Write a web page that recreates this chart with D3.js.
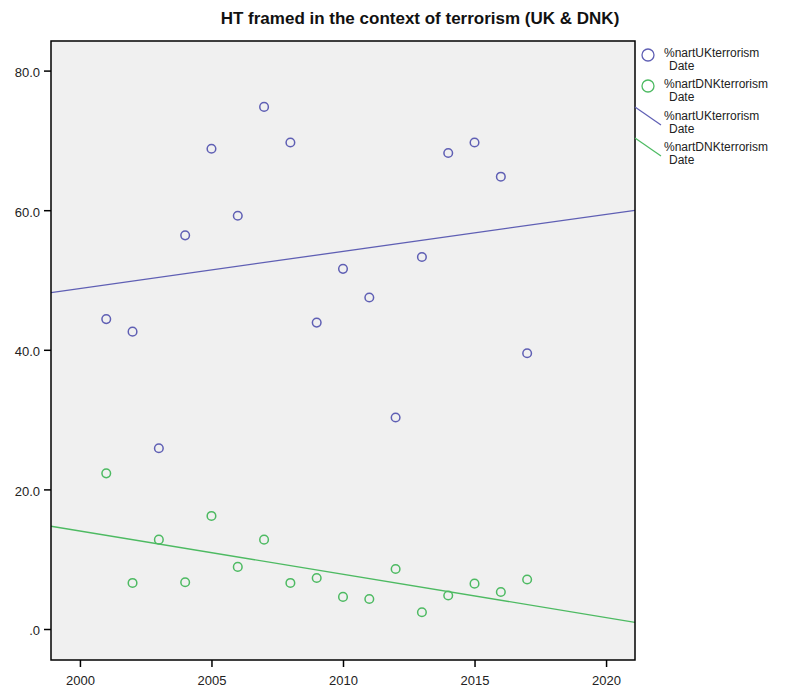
<!DOCTYPE html>
<html>
<head>
<meta charset="utf-8">
<script src="https://cdn.jsdelivr.net/npm/d3@7"></script>
<style>
  html, body { margin: 0; padding: 0; background: #ffffff; }
  svg { display: block; font-family: "Liberation Sans", Arial, sans-serif; }
</style>
</head>
<body>
<svg id="chart" width="789" height="689"></svg>
<script>
// Share of articles framing HT in the context of terrorism, per year
const years = [2001, 2002, 2003, 2004, 2005, 2006, 2007, 2008, 2009,
               2010, 2011, 2012, 2013, 2014, 2015, 2016, 2017];
const ukValues  = [44.4, 42.6, 25.9, 56.4, 68.8, 59.2, 74.8, 69.7, 43.9,
                   51.6, 47.5, 30.3, 53.3, 68.2, 69.7, 64.8, 39.5];
const dnkValues = [22.3, 6.6, 12.8, 6.7, 16.2, 8.9, 12.8, 6.6, 7.3,
                   4.6, 4.3, 8.6, 2.4, 4.8, 6.5, 5.3, 7.1];
const xTicks = [2000, 2005, 2010, 2015, 2020];
const yTicks = [0, 20, 40, 60, 80];
const seriesNames = ["%nartUKterrorism", "%nartDNKterrorism"];
const seriesColors = ["#5f5fb4", "#4dba62"];

const svg = d3.select("#chart");
const plot = { left: 51, right: 635, top: 41, bottom: 660 };

const x = d3.scaleLinear().domain([1998.9, 2021.1]).range([plot.left, plot.right]);
const y = d3.scaleLinear().domain([-4.44, 84.24]).range([plot.bottom, plot.top]);

// Least-squares fit line for a series
function linearFit(xs, ys) {
  const mx = d3.mean(xs), my = d3.mean(ys);
  let sxy = 0, sxx = 0;
  xs.forEach((v, i) => { sxy += (v - mx) * (ys[i] - my); sxx += (v - mx) * (v - mx); });
  const b = sxy / sxx;
  return t => my + b * (t - mx);
}

// Title
svg.append("text")
  .attr("x", 420).attr("y", 24)
  .attr("text-anchor", "middle")
  .attr("font-size", 17).attr("font-weight", "bold")
  .attr("fill", "#111")
  .text("HT framed in the context of terrorism (UK & DNK)");

// Plot background
svg.append("rect")
  .attr("x", plot.left).attr("y", plot.top)
  .attr("width", plot.right - plot.left).attr("height", plot.bottom - plot.top)
  .attr("fill", "#f0f0f0");

svg.append("clipPath").attr("id", "plotClip")
  .append("rect")
  .attr("x", plot.left).attr("y", plot.top)
  .attr("width", plot.right - plot.left).attr("height", plot.bottom - plot.top);

const series = [ukValues, dnkValues];
const xDom = x.domain();

// Fit lines
const lines = svg.append("g").attr("clip-path", "url(#plotClip)");
series.forEach((vals, i) => {
  const f = linearFit(years, vals);
  lines.append("line")
    .attr("x1", x(xDom[0])).attr("y1", y(f(xDom[0])))
    .attr("x2", x(xDom[1])).attr("y2", y(f(xDom[1])))
    .attr("stroke", seriesColors[i]).attr("stroke-width", 1.3);
});

// Points
series.forEach((vals, i) => {
  svg.append("g").selectAll("circle")
    .data(vals)
    .join("circle")
    .attr("cx", (d, j) => x(years[j]))
    .attr("cy", d => y(d))
    .attr("r", 4.3)
    .attr("fill", "none")
    .attr("stroke", seriesColors[i])
    .attr("stroke-width", 1.5);
});

// Axes
const xAxis = svg.append("g")
  .attr("transform", `translate(0,${plot.bottom})`)
  .call(d3.axisBottom(x).tickValues(xTicks).tickFormat(d3.format("d")).tickSize(7).tickSizeOuter(0));
const yAxis = svg.append("g")
  .attr("transform", `translate(${plot.left},0)`)
  .call(d3.axisLeft(y).tickValues(yTicks)
    .tickFormat(d => d === 0 ? ".0" : d3.format(".1f")(d)).tickSize(7).tickSizeOuter(0));
[xAxis, yAxis].forEach(g => {
  g.select(".domain").remove();
  g.selectAll(".tick line").attr("stroke", "#000").attr("stroke-width", 1.5);
  g.selectAll(".tick text").attr("font-size", 13).attr("fill", "#222")
    .attr("font-family", "'Liberation Sans', Arial, sans-serif");
});
xAxis.selectAll(".tick text").attr("dy", "1.15em");
yAxis.selectAll(".tick text").attr("dx", "-1px").attr("dy", "0.45em");

// Frame
svg.append("rect")
  .attr("x", plot.left).attr("y", plot.top)
  .attr("width", plot.right - plot.left).attr("height", plot.bottom - plot.top)
  .attr("fill", "none").attr("stroke", "#000").attr("stroke-width", 1.5);

// Legend
const legend = svg.append("g").attr("font-size", 12).attr("fill", "#222");
const legendRows = [
  { kind: "point", s: 0, y: 57 },
  { kind: "point", s: 1, y: 88 },
  { kind: "line",  s: 0, y: 120 },
  { kind: "line",  s: 1, y: 151 }
];
legendRows.forEach(r => {
  if (r.kind === "point") {
    legend.append("circle")
      .attr("cx", 648).attr("cy", r.y - 2).attr("r", 6)
      .attr("fill", "none").attr("stroke", seriesColors[r.s]).attr("stroke-width", 1.3);
  } else {
    legend.append("line")
      .attr("x1", plot.right).attr("y1", r.y - 13)
      .attr("x2", 661).attr("y2", r.y + 5)
      .attr("stroke", seriesColors[r.s]).attr("stroke-width", 1.2);
  }
  legend.append("text").attr("x", 664).attr("y", r.y).text(seriesNames[r.s]);
  legend.append("text").attr("x", 669).attr("y", r.y + 12.5).text("Date");
});
</script>
</body>
</html>
